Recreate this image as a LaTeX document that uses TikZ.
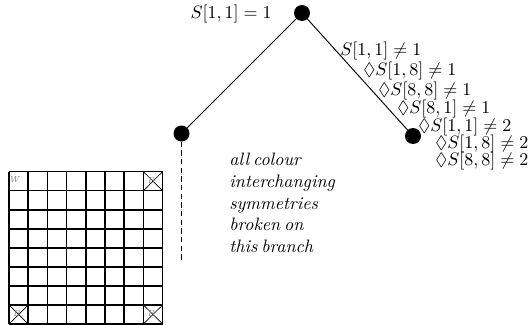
\documentclass[tikz,border=0pt]{standalone}
\usepackage{amssymb}
\newcommand\mytightspace{\spaceskip=0.22em plus 0.1em\relax}
\begin{document}
\begin{tikzpicture}[x=0.75pt,y=-0.75pt,
  dot/.style={circle,fill=black,inner sep=0pt,minimum size=12pt},
  edge/.style={line width=0.7pt},
  lbl/.style={inner sep=0pt,scale=1.35},
  gridline/.style={line width=1.1pt},
  crossline/.style={line width=0.5pt},
  piece/.style={inner sep=0pt,font=\scriptsize\itshape,text=gray,scale=0.95}]
\useasboundingbox (0,0) rectangle (529,325);
% tree
\node[dot] (root) at (302,13) {};
\node[dot] (L) at (181.5,133.5) {};
\node[dot] (R) at (413,136) {};
\coordinate (Lend) at (181.5,262);
\draw[edge] (root) -- (L);
\draw[edge] (root) -- (R);
\draw[edge,dash pattern=on 4pt off 2.5pt] (L) -- (Lend);
% labels
\node[lbl,anchor=east] (lroot) at (272,14) {$S[1,1]=1$};
\node[lbl,anchor=west] (r1) at (340,51) {$S[1,1]\neq 1$};
\node[lbl,anchor=west] (r2) at (363,71) {$\Diamond S[1,8]\neq 1$};
\node[lbl,anchor=west] (r3) at (378,91) {$\Diamond S[8,8]\neq 1$};
\node[lbl,anchor=west] (r4) at (397,109) {$\Diamond S[8,1]\neq 1$};
\node[lbl,anchor=west] (r5) at (418,127) {$\Diamond S[1,1]\neq 2$};
\node[lbl,anchor=west] (r6) at (435,144) {$\Diamond S[1,8]\neq 2$};
\node[lbl,anchor=west] (r7) at (435,161) {$\Diamond S[8,8]\neq 2$};
\node[lbl,anchor=north west,align=left,font=\itshape\mytightspace] (note) at (229,153)
  {all colour\\interchanging\\symmetries\\broken on\\this branch};
% board
\foreach \i in {0,...,8} {
  \draw[gridline] (9+19.2*\i,171.7) -- (9+19.2*\i,324);
  \draw[gridline] (9,171.7+19.04*\i) -- (162.6,171.7+19.04*\i);
}
\draw[crossline] (143.4,171.7) -- (162.6,190.74) (162.6,171.7) -- (143.4,190.74);
\draw[crossline] (9,304.96) -- (28.2,324) (28.2,304.96) -- (9,324);
\draw[crossline] (143.4,304.96) -- (162.6,324) (162.6,304.96) -- (143.4,324);
\node[piece] (w) at (14,180) {W};
\node[piece] (b1) at (151,180) {B};
\node[piece] (b2) at (16.5,313.5) {B};
\node[piece] (b3) at (151,313.5) {B};
\end{tikzpicture}
\end{document}
